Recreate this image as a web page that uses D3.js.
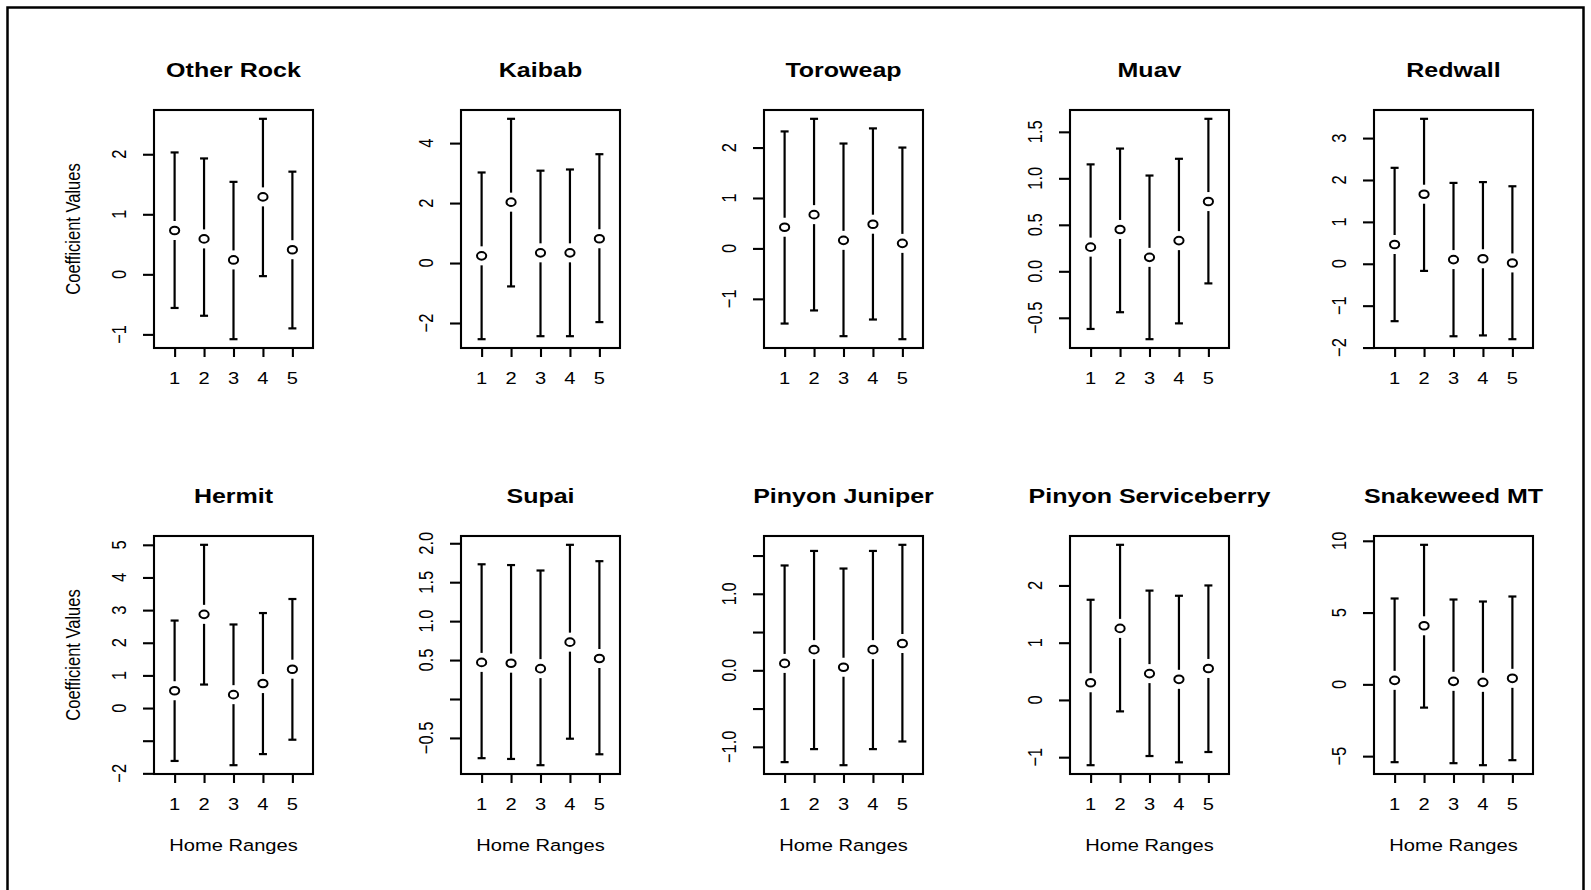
<!DOCTYPE html>
<html>

<head>
    <meta charset="utf-8">
    <title>Coefficient values by home range</title>
    <script src="https://d3js.org/d3.v7.min.js"></script>
    <style>
        body { margin: 0; background: #fff; }
        text { font-family: "Liberation Sans", Arial, sans-serif; fill: #000; }
    </style>
</head>

<body>
    <script type="text/javascript">
        // one panel per cover type, 5 home ranges each
        const panelNames = ["Other Rock", "Kaibab", "Toroweap", "Muav", "Redwall",
            "Hermit", "Supai", "Pinyon Juniper", "Pinyon Serviceberry", "Snakeweed MT"];
        const homeRanges = [1, 2, 3, 4, 5];

        const estimates = [
            [0.73, 0.59, 0.24, 1.29, 0.41],
            [0.24, 2.03, 0.34, 0.34, 0.81],
            [0.42, 0.67, 0.16, 0.48, 0.10],
            [0.26, 0.45, 0.15, 0.33, 0.75],
            [0.46, 1.66, 0.10, 0.12, 0.02],
            [0.53, 2.87, 0.41, 0.75, 1.19],
            [0.47, 0.46, 0.39, 0.73, 0.52],
            [0.09, 0.27, 0.04, 0.27, 0.35],
            [0.30, 1.25, 0.46, 0.36, 0.55],
            [0.28, 4.08, 0.21, 0.14, 0.42]
        ];
        const upperCI = [
            [2.03, 1.93, 1.54, 2.59, 1.71],
            [3.02, 4.81, 3.08, 3.12, 3.63],
            [2.32, 2.57, 2.08, 2.38, 2.00],
            [1.15, 1.32, 1.03, 1.21, 1.64],
            [2.29, 3.46, 1.93, 1.95, 1.85],
            [2.68, 5.00, 2.56, 2.91, 3.34],
            [1.73, 1.72, 1.65, 1.98, 1.77],
            [1.37, 1.56, 1.33, 1.56, 1.64],
            [1.75, 2.71, 1.91, 1.82, 2.00],
            [5.98, 9.72, 5.91, 5.77, 6.12]
        ];
        const lowerCI = [
            [-0.56, -0.69, -1.08, -0.03, -0.90],
            [-2.54, -0.78, -2.44, -2.44, -1.97],
            [-1.49, -1.23, -1.74, -1.41, -1.80],
            [-0.62, -0.44, -0.73, -0.56, -0.13],
            [-1.37, -0.17, -1.73, -1.71, -1.80],
            [-1.62, 0.72, -1.75, -1.41, -0.97],
            [-0.76, -0.77, -0.85, -0.51, -0.71],
            [-1.20, -1.03, -1.24, -1.03, -0.93],
            [-1.14, -0.20, -0.98, -1.09, -0.91],
            [-5.42, -1.62, -5.49, -5.63, -5.28]
        ];

        // y ticks per panel, and labels (R dropped some that would overlap)
        const yTicks = [
            [-1, 0, 1, 2],
            [-2, 0, 2, 4],
            [-1, 0, 1, 2],
            [-0.5, 0, 0.5, 1, 1.5],
            [-2, -1, 0, 1, 2, 3],
            [-2, -1, 0, 1, 2, 3, 4, 5],
            [-0.5, 0, 0.5, 1, 1.5, 2],
            [-1, -0.5, 0, 0.5, 1, 1.5],
            [-1, 0, 1, 2],
            [-5, 0, 5, 10]
        ];
        const yTickLabels = [
            ["\u22121", "0", "1", "2"],
            ["\u22122", "0", "2", "4"],
            ["\u22121", "0", "1", "2"],
            ["\u22120.5", "0.0", "0.5", "1.0", "1.5"],
            ["\u22122", "\u22121", "0", "1", "2", "3"],
            ["\u22122", "", "0", "1", "2", "3", "4", "5"],
            ["\u22120.5", "", "0.5", "1.0", "1.5", "2.0"],
            ["\u22121.0", "", "0.0", "", "1.0", ""],
            ["\u22121", "0", "1", "2"],
            ["\u22125", "0", "5", "10"]
        ];

        const yTitle = "Coefficient Values";
        const xTitle = "Home Ranges";

        const W = 1591, H = 890;
        const sx = 1.22;           // the source image is stretched sideways
        const boxW = 159, boxH = 238;
        const colLeft = [154, 461, 764, 1070, 1374];
        const rowTop = [110, 536];
        const gap = 9.5;           // gap between CI line and point

        const svg = d3.select("body").append("svg")
            .attr("width", W)
            .attr("height", H);

        // outer frame
        svg.append("path")
            .attr("d", "M7.5," + H + "V7.5H1583.5V" + H)
            .attr("fill", "none")
            .attr("stroke", "#000")
            .attr("stroke-width", 2.5);

        function hText(g, x, y, txt, size, weight) {
            return g.append("text")
                .attr("transform", "translate(" + x + "," + y + ") scale(" + sx + ",1)")
                .attr("text-anchor", "middle")
                .style("font-size", size + "px")
                .style("font-weight", weight || "normal")
                .text(txt);
        }

        function vText(g, x, y, txt, size) {
            return g.append("text")
                .attr("transform", "translate(" + x + "," + y + ") scale(" + sx + ",1) rotate(-90)")
                .attr("text-anchor", "middle")
                .style("font-size", size + "px")
                .text(txt);
        }

        panelNames.forEach(function (name, i) {
            const row = Math.floor(i / 5), col = i % 5;
            const x0 = colLeft[col], y0 = rowTop[row];
            const g = svg.append("g").attr("transform", "translate(" + x0 + "," + y0 + ")");

            const lo = d3.min(lowerCI[i]), hi = d3.max(upperCI[i]);
            const pad = (hi - lo) * 0.04;
            const y = d3.scaleLinear().domain([lo - pad, hi + pad]).range([boxH, 0]);
            const x = d3.scaleLinear().domain([0.3, 5.7]).range([0, boxW]);

            // y axis
            const yAxis = d3.axisLeft(y).tickValues(yTicks[i]).tickSize(11).tickFormat("");
            g.append("g").attr("class", "y axis").call(yAxis)
                .call(a => a.select(".domain").remove())
                .call(a => a.selectAll("line").attr("stroke", "#000").attr("stroke-width", 2.1));
            yTicks[i].forEach(function (t, k) {
                if (yTickLabels[i][k]) vText(g, -28, y(t), yTickLabels[i][k], 16.5);
            });

            // x axis
            const xAxis = d3.axisBottom(x).tickValues(homeRanges).tickSize(9).tickFormat("");
            g.append("g").attr("class", "x axis")
                .attr("transform", "translate(0," + boxH + ")")
                .call(xAxis)
                .call(a => a.select(".domain").remove())
                .call(a => a.selectAll("line").attr("stroke", "#000").attr("stroke-width", 2.1));
            homeRanges.forEach(function (h) {
                hText(g, x(h), boxH + 36, h, 16.5);
            });

            // box
            g.append("rect")
                .attr("width", boxW).attr("height", boxH)
                .attr("fill", "none").attr("stroke", "#000").attr("stroke-width", 2.1);

            // title
            hText(g, boxW / 2, -33, name, 20.5, "bold");

            if (col === 0) vText(g, -74, boxH / 2, yTitle, 16.5);
            if (row === 1) hText(g, boxW / 2, boxH + 77, xTitle, 16.5);

            // error bars
            const bars = g.selectAll(".ci").data(homeRanges).enter().append("g").attr("class", "ci");
            bars.append("line")
                .attr("x1", d => x(d)).attr("x2", d => x(d))
                .attr("y1", (d, k) => y(upperCI[i][k]))
                .attr("y2", (d, k) => y(estimates[i][k]) - gap);
            bars.append("line")
                .attr("x1", d => x(d)).attr("x2", d => x(d))
                .attr("y1", (d, k) => y(estimates[i][k]) + gap)
                .attr("y2", (d, k) => y(lowerCI[i][k]));
            bars.append("line")
                .attr("x1", d => x(d) - 4).attr("x2", d => x(d) + 4)
                .attr("y1", (d, k) => y(upperCI[i][k]))
                .attr("y2", (d, k) => y(upperCI[i][k]));
            bars.append("line")
                .attr("x1", d => x(d) - 4).attr("x2", d => x(d) + 4)
                .attr("y1", (d, k) => y(lowerCI[i][k]))
                .attr("y2", (d, k) => y(lowerCI[i][k]));
            bars.selectAll("line").attr("stroke", "#000").attr("stroke-width", 2.2);

            bars.append("ellipse")
                .attr("cx", d => x(d))
                .attr("cy", (d, k) => y(estimates[i][k]))
                .attr("rx", 4.6).attr("ry", 3.8)
                .attr("fill", "none")
                .attr("stroke", "#000")
                .attr("stroke-width", 2);
        });
    </script>
</body>

</html>
